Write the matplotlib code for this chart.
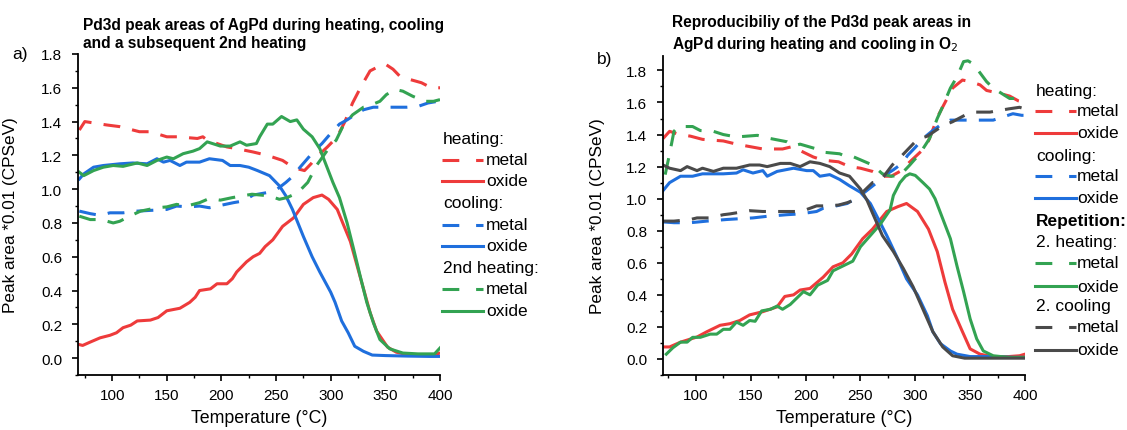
import matplotlib
matplotlib.use("Agg")
import matplotlib.pyplot as plt
from matplotlib.lines import Line2D
from matplotlib.ticker import MultipleLocator

plt.rcParams['font.family'] = ['Liberation Sans', 'DejaVu Sans']

# colours
RED = '#ee3b3b'
BLUE = '#1f6fdd'
GREEN = '#33a352'
GRAY = '#4a4a4a'

# ---------------- panel a) ----------------
a_heat_metal_T = [70, 75, 85, 95, 107, 125, 135, 150, 160, 178, 183, 187, 205, 214, 229, 242, 256, 263,
                  270, 276, 282, 287, 297, 306, 313, 320, 328, 336, 345, 350, 357, 363, 372, 383, 392, 400]
a_heat_metal = [1.35, 1.40, 1.39, 1.38, 1.37, 1.34, 1.34, 1.31, 1.31, 1.30, 1.31, 1.29, 1.25, 1.24, 1.22, 1.20, 1.17, 1.14,
                1.12, 1.11, 1.15, 1.19, 1.25, 1.31, 1.40, 1.51, 1.61, 1.70, 1.73, 1.74, 1.71, 1.67, 1.65, 1.63, 1.60, 1.60]

a_heat_oxide_T = [70, 73, 80, 89, 98, 104, 110, 117, 123, 135, 142, 150, 162, 171, 176, 180, 190, 196, 205, 210, 214,
                  223, 229, 235, 240, 247, 256, 266, 275, 284, 292, 298, 306, 311, 318, 324, 330, 336, 342, 352, 360,
                  370, 380, 390, 395, 400]
a_heat_oxide = [0.08, 0.075, 0.095, 0.12, 0.135, 0.15, 0.18, 0.195, 0.22, 0.225, 0.24, 0.28, 0.295, 0.33, 0.36, 0.40,
                0.41, 0.44, 0.44, 0.47, 0.51, 0.57, 0.60, 0.62, 0.66, 0.70, 0.78, 0.83, 0.91, 0.95, 0.965, 0.94, 0.88,
                0.80, 0.69, 0.55, 0.41, 0.27, 0.16, 0.065, 0.035, 0.02, 0.02, 0.02, 0.02, 0.03]

a_cool_metal_T = [70, 80, 89, 98, 110, 123, 137, 150, 159, 170, 180, 189, 200, 211, 220, 229, 242, 251, 259, 266, 272,
                  284, 292, 300, 308, 315, 322, 330, 339, 350, 360, 370, 380, 389, 398, 400]
a_cool_metal = [0.87, 0.855, 0.845, 0.86, 0.86, 0.87, 0.875, 0.88, 0.90, 0.895, 0.90, 0.89, 0.905, 0.92, 0.93, 0.965,
                0.98, 1.0, 1.04, 1.08, 1.13, 1.22, 1.27, 1.33, 1.385, 1.41, 1.44, 1.47, 1.485, 1.485, 1.485, 1.485,
                1.49, 1.51, 1.52, 1.51]

a_cool_oxide_T = [70, 74, 83, 92, 107, 119, 132, 141, 147, 153, 162, 168, 180, 189, 201, 208, 217, 225, 233, 244, 253,
                  259, 265, 270, 275, 283, 290, 300, 304, 310, 316, 322, 330, 338, 350, 370, 390, 400]
a_cool_oxide = [1.06, 1.09, 1.13, 1.14, 1.15, 1.155, 1.15, 1.18, 1.16, 1.17, 1.14, 1.16, 1.16, 1.18, 1.17, 1.14, 1.14,
                1.13, 1.11, 1.08, 1.02, 0.96, 0.88, 0.80, 0.72, 0.60, 0.51, 0.39, 0.33, 0.22, 0.15, 0.07, 0.04, 0.018,
                0.015, 0.012, 0.01, 0.01]

a_heat2_metal_T = [70, 80, 90, 101, 107, 116, 126, 141, 150, 159, 168, 180, 189, 199, 210, 219, 228, 236, 244, 253, 260,
                   270, 279, 287, 298, 305, 311, 320, 330, 334, 345, 351, 359, 366, 375, 386, 394, 400]
a_heat2_metal = [0.84, 0.82, 0.82, 0.80, 0.81, 0.84, 0.87, 0.89, 0.895, 0.91, 0.90, 0.92, 0.945, 0.935, 0.95, 0.96,
                 0.97, 0.965, 0.96, 0.94, 0.95, 0.98, 1.04, 1.14, 1.24, 1.29, 1.37, 1.44, 1.485, 1.49, 1.52, 1.56,
                 1.59, 1.58, 1.55, 1.52, 1.52, 1.53]

a_heat2_oxide_T = [70, 74, 83, 92, 101, 110, 123, 132, 141, 150, 156, 165, 174, 180, 187, 199, 208, 217, 223, 232, 235,
                   242, 247, 255, 263, 269, 275, 283, 290, 296, 302, 308, 315, 321, 327, 333, 339, 345, 354, 366, 380,
                   395, 400]
a_heat2_oxide = [1.10, 1.08, 1.11, 1.13, 1.14, 1.135, 1.155, 1.14, 1.17, 1.19, 1.18, 1.21, 1.225, 1.24, 1.28, 1.255,
                 1.255, 1.28, 1.26, 1.27, 1.31, 1.385, 1.385, 1.43, 1.40, 1.41, 1.355, 1.31, 1.24, 1.14, 1.04, 0.95,
                 0.80, 0.645, 0.485, 0.33, 0.21, 0.11, 0.055, 0.03, 0.025, 0.025, 0.06]

# ---------------- panel b) ----------------
b_heat_metal_T = [70, 76, 85, 95, 106, 125, 137, 149, 161, 179, 188, 198, 207, 216, 230, 240, 250, 261, 270, 278, 286,
                  292, 306, 312, 321, 334, 343, 350, 359, 365, 375, 386, 394, 400]
b_heat_metal = [1.375, 1.42, 1.40, 1.39, 1.37, 1.36, 1.34, 1.325, 1.31, 1.31, 1.325, 1.29, 1.26, 1.24, 1.23, 1.20,
                1.19, 1.17, 1.14, 1.14, 1.17, 1.21, 1.30, 1.36, 1.52, 1.69, 1.74, 1.73, 1.71, 1.675, 1.66, 1.64,
                1.61, 1.60]

b_heat_oxide_T = [70, 76, 86, 101, 110, 122, 131, 140, 149, 161, 174, 181, 189, 195, 204, 216, 225, 234, 242, 252, 261,
                  274, 284, 292, 302, 312, 320, 327, 334, 343, 350, 359, 370, 385, 395, 400]
b_heat_oxide = [0.075, 0.075, 0.105, 0.137, 0.17, 0.21, 0.22, 0.24, 0.275, 0.295, 0.325, 0.39, 0.40, 0.43, 0.44,
                0.51, 0.575, 0.60, 0.655, 0.75, 0.81, 0.92, 0.95, 0.97, 0.92, 0.81, 0.67, 0.48, 0.31, 0.17, 0.063,
                0.03, 0.015, 0.015, 0.02, 0.03]

b_cool_metal_T = [70, 80, 95, 110, 128, 140, 152, 165, 183, 195, 210, 216, 228, 238, 245, 250, 265, 271, 280, 288, 293,
                  300, 307, 315, 323, 332, 338, 350, 359, 371, 380, 389, 397, 400]
b_cool_metal = [0.855, 0.85, 0.85, 0.86, 0.87, 0.875, 0.88, 0.89, 0.90, 0.905, 0.92, 0.94, 0.955, 0.97, 1.0, 1.02,
                1.10, 1.14, 1.18, 1.22, 1.27, 1.32, 1.375, 1.42, 1.46, 1.49, 1.49, 1.49, 1.49, 1.49, 1.51, 1.53,
                1.52, 1.52]

b_cool_oxide_T = [70, 76, 86, 97, 106, 125, 137, 143, 152, 161, 165, 174, 189, 201, 207, 213, 222, 231, 240, 250, 259,
                  265, 274, 283, 292, 302, 311, 316, 323, 332, 338, 350, 370, 390, 400]
b_cool_oxide = [1.05, 1.10, 1.14, 1.14, 1.155, 1.155, 1.16, 1.18, 1.16, 1.175, 1.14, 1.17, 1.19, 1.175, 1.175, 1.14,
                1.15, 1.12, 1.08, 1.04, 0.97, 0.89, 0.77, 0.64, 0.50, 0.40, 0.27, 0.17, 0.095, 0.05, 0.03, 0.015,
                0.015, 0.01, 0.01]

b_heat2_metal_T = [72, 76, 80, 84, 97, 104, 116, 125, 137, 156, 168, 183, 189, 195, 210, 216, 231, 238, 244, 261, 270,
                   278, 286, 295, 304, 313, 320, 324, 332, 338, 344, 348, 353, 365, 371, 386, 395, 400]
b_heat2_metal = [1.15, 1.28, 1.42, 1.45, 1.45, 1.425, 1.42, 1.40, 1.385, 1.395, 1.375, 1.355, 1.33, 1.34, 1.31, 1.29,
                 1.28, 1.26, 1.26, 1.21, 1.155, 1.14, 1.145, 1.21, 1.28, 1.375, 1.50, 1.56, 1.69, 1.76, 1.855, 1.86,
                 1.84, 1.73, 1.69, 1.625, 1.625, 1.61]

b_heat2_oxide_T = [73, 79, 86, 92, 97, 104, 113, 119, 125, 131, 137, 143, 149, 154, 160, 168, 174, 179, 186, 192, 198,
                   204, 211, 220, 225, 234, 243, 250, 259, 268, 277, 280, 286, 291, 295, 300, 307, 313, 318, 325, 332,
                   338, 344, 350, 356, 362, 371, 385, 400]
b_heat2_oxide = [0.03, 0.07, 0.105, 0.105, 0.135, 0.135, 0.155, 0.155, 0.185, 0.185, 0.23, 0.21, 0.24, 0.235, 0.30,
                 0.31, 0.33, 0.31, 0.34, 0.38, 0.42, 0.40, 0.46, 0.49, 0.55, 0.58, 0.61, 0.70, 0.77, 0.84, 0.93, 1.02,
                 1.10, 1.14, 1.155, 1.145, 1.10, 1.06, 1.00, 0.875, 0.75, 0.58, 0.42, 0.25, 0.125, 0.05, 0.02, 0.01,
                 0.01]

b_cool2_metal_T = [70, 80, 95, 101, 112, 125, 131, 149, 161, 179, 192, 200, 210, 219, 230, 238, 244, 252, 261, 268, 279,
                   288, 302, 311, 325, 334, 345, 354, 368, 385, 395, 400]
b_cool2_metal = [0.86, 0.86, 0.87, 0.88, 0.88, 0.90, 0.905, 0.925, 0.92, 0.92, 0.92, 0.93, 0.955, 0.955, 0.96, 0.975,
                 0.99, 1.04, 1.10, 1.11, 1.21, 1.27, 1.37, 1.39, 1.455, 1.48, 1.52, 1.54, 1.54, 1.56, 1.57, 1.56]

b_cool2_oxide_T = [70, 76, 86, 92, 101, 106, 116, 125, 137, 149, 158, 165, 177, 186, 195, 204, 213, 222, 231, 240, 250,
                   256, 261, 270, 280, 289, 298, 307, 316, 325, 334, 345, 370, 400]
b_cool2_oxide = [1.21, 1.19, 1.175, 1.20, 1.175, 1.19, 1.17, 1.19, 1.19, 1.21, 1.21, 1.20, 1.22, 1.22, 1.20, 1.23,
                 1.22, 1.20, 1.16, 1.14, 1.06, 0.99, 0.91, 0.77, 0.67, 0.565, 0.45, 0.31, 0.17, 0.075, 0.02, 0.005,
                 0.005, 0.005]

W, H = 1127, 431
fig = plt.figure(figsize=(W / 100, H / 100), dpi=100)

ax_a = fig.add_axes([77.7 / W, 1 - 376 / H, 362.3 / W, 321 / H])
ax_b = fig.add_axes([663 / W, 1 - 376 / H, 362 / W, 319 / H])

LW = 2.2
DASH = (5.5, 4)


def plot_pair(ax, T_m, metal, T_o, oxide, color):
    ax.plot(T_m, metal, color=color, lw=LW, dashes=DASH, dash_capstyle='butt')
    ax.plot(T_o, oxide, color=color, lw=LW, solid_joinstyle='round')


plot_pair(ax_a, a_heat_metal_T, a_heat_metal, a_heat_oxide_T, a_heat_oxide, RED)
plot_pair(ax_a, a_cool_metal_T, a_cool_metal, a_cool_oxide_T, a_cool_oxide, BLUE)
plot_pair(ax_a, a_heat2_metal_T, a_heat2_metal, a_heat2_oxide_T, a_heat2_oxide, GREEN)

plot_pair(ax_b, b_heat_metal_T, b_heat_metal, b_heat_oxide_T, b_heat_oxide, RED)
plot_pair(ax_b, b_cool_metal_T, b_cool_metal, b_cool_oxide_T, b_cool_oxide, BLUE)
plot_pair(ax_b, b_heat2_metal_T, b_heat2_metal, b_heat2_oxide_T, b_heat2_oxide, GREEN)
plot_pair(ax_b, b_cool2_metal_T, b_cool2_metal, b_cool2_oxide_T, b_cool2_oxide, GRAY)

for ax, xmin, ytop in [(ax_a, 68.5, 1.8), (ax_b, 70, 1.89)]:
    ax.set_xlim(xmin, 400)
    ax.set_ylim(-0.1, ytop)
    ax.xaxis.set_minor_locator(MultipleLocator(25))
    ax.yaxis.set_minor_locator(MultipleLocator(0.1))
    ax.set_yticks([i * 0.2 for i in range(10)])
    ax.set_yticklabels([f"{i * 0.2:.1f}" for i in range(10)])
    ax.set_xticks([100, 150, 200, 250, 300, 350, 400])
    ax.spines['top'].set_visible(False)
    ax.spines['right'].set_visible(False)
    ax.spines['left'].set_linewidth(1.3)
    ax.spines['bottom'].set_linewidth(1.3)
    ax.tick_params(which='major', direction='out', length=4.3, width=1.2, labelsize=11)
    ax.tick_params(which='minor', direction='out', length=2.5, width=1.0)
    ax.tick_params(axis='y', which='major', pad=7)
    ax.tick_params(axis='x', which='major', pad=5)
    ax.set_xlabel('Temperature (°C)', fontsize=12.8, va='center')
    ax.set_ylabel('Peak area *0.01 (CPSeV)', fontsize=12.3)
    ax.patch.set_alpha(0)

ax_a.yaxis.set_label_coords(-0.165, 0.5)
ax_b.yaxis.set_label_coords(-0.16, 0.5)
ax_a.xaxis.set_label_coords(0.5, -(419 - 376) / 321)
ax_b.xaxis.set_label_coords(0.5, -(419 - 376) / 319)

# titles and panel letters
fig.text(83 / W, 1 - 34.5 / H, 'Pd3d peak areas of AgPd during heating, cooling\nand a subsequent 2nd heating',
         fontsize=11.2, fontweight='bold', ha='left', va='center', linespacing=1.3)
fig.text(672 / W, 1 - 34.5 / H, 'Reproducibiliy of the Pd3d peak areas in\nAgPd during heating and cooling in O$_2$',
         fontsize=11.2, fontweight='bold', ha='left', va='center', linespacing=1.3)
fig.text(20 / W, 1 - 55 / H, 'a)', fontsize=12.5, ha='center', va='center')
fig.text(605 / W, 1 - 60 / H, 'b)', fontsize=12.5, ha='center', va='center')

LEG_FS = 12.5


# hand-built legends (Origin style with sub-headers)
def legend_block(x_line, x_text, rows):
    for kind, label, y, color in rows:
        yf = 1 - y / H
        if kind == 'head':
            fig.text((x_line + 1) / W, yf, label, fontsize=LEG_FS, ha='left', va='center')
        elif kind == 'bold':
            fig.text((x_line + 1) / W, yf, label, fontsize=LEG_FS, ha='left', va='center', fontweight='bold')
        else:
            ln = Line2D([x_line / W, (x_line + 41) / W], [yf, yf], transform=fig.transFigure,
                        color=color, lw=LW)
            if kind == 'dash':
                ln.set_dashes((5.5, 5.5))
            fig.add_artist(ln)
            fig.text(x_text / W, yf, label, fontsize=LEG_FS, ha='left', va='center')


legend_block(442, 486, [
    ('head', 'heating:', 140, None),
    ('dash', 'metal', 161, RED),
    ('solid', 'oxide', 182, RED),
    ('head', 'cooling:', 204, None),
    ('dash', 'metal', 226, BLUE),
    ('solid', 'oxide', 247, BLUE),
    ('head', '2nd heating:', 268, None),
    ('dash', 'metal', 290, GREEN),
    ('solid', 'oxide', 312, GREEN),
])

legend_block(1035, 1077, [
    ('head', 'heating:', 92, None),
    ('dash', 'metal', 112, RED),
    ('solid', 'oxide', 134, RED),
    ('head', 'cooling:', 157, None),
    ('dash', 'metal', 177, BLUE),
    ('solid', 'oxide', 199, BLUE),
    ('bold', 'Repetition:', 222, None),
    ('head', '2. heating:', 243, None),
    ('dash', 'metal', 264, GREEN),
    ('solid', 'oxide', 287, GREEN),
    ('head', '2. cooling', 307, None),
    ('dash', 'metal', 328, GRAY),
    ('solid', 'oxide', 351, GRAY),
])

fig.savefig('out.png', dpi=100)
